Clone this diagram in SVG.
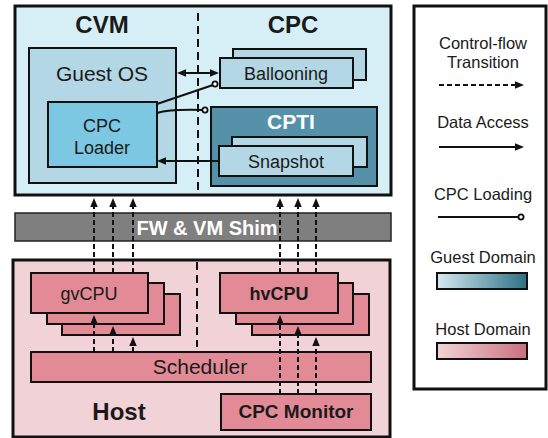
<svg xmlns="http://www.w3.org/2000/svg" width="548" height="438" viewBox="0 0 548 438">
<defs>
<marker id="ah" markerUnits="userSpaceOnUse" markerWidth="10" markerHeight="8" refX="2" refY="3.75" orient="auto-start-reverse">
<path d="M0,0 L9,3.75 L0,7.5 z" fill="#111"/>
</marker>
<linearGradient id="gGuest" x1="0" x2="1" y1="0" y2="0"><stop offset="0" stop-color="#d3ebf1"/><stop offset="1" stop-color="#2e6f84"/></linearGradient>
<linearGradient id="gHost" x1="0" x2="1" y1="0" y2="0"><stop offset="0" stop-color="#f2d3d8"/><stop offset="1" stop-color="#c9717d"/></linearGradient>
</defs>
<style>
text{font-family:"Liberation Sans",Arial,sans-serif;fill:#1a1a1a;text-anchor:middle}
.b{font-weight:bold}
.outer{stroke:#111;stroke-width:3}
.box{stroke:#111;stroke-width:2}
.lb{fill:#b3d7e5}
.host{fill:#e28a96}
.dash{stroke:#111;stroke-width:2;stroke-dasharray:5 3;fill:none}
.sol{stroke:#111;stroke-width:2;fill:none}
.div{stroke:#111;stroke-width:2;stroke-dasharray:8 5;fill:none}
.leg{font-size:16.5px}
</style>

<g id="cvm">
<rect x="15" y="6" width="376" height="189" fill="#d6eef6" class="outer"/>
<text x="102" y="33" class="b" font-size="24">CVM</text>
<text x="293" y="33" class="b" font-size="24">CPC</text>
</g>
<g id="guest-os">
<rect x="29" y="48" width="147" height="135" class="box lb"/>
<text x="102" y="81" font-size="21">Guest OS</text>
</g>
<g id="cpc-loader">
<rect x="48" y="102" width="109" height="65" class="box" fill="#7cc7e2"/>
<text x="102" y="132" font-size="18">CPC</text>
<text x="102" y="154" font-size="18">Loader</text>
</g>
<g id="ballooning">
<rect x="233" y="49" width="133" height="31" class="box lb"/>
<rect x="220" y="58" width="133" height="30" class="box lb"/>
<text x="286" y="80" font-size="18">Ballooning</text>
</g>
<g id="cpti">
<rect x="211" y="107" width="166" height="79" class="box" fill="#5591a9"/>
<text x="291" y="129" class="b" font-size="21" style="fill:#fff">CPTI</text>
</g>
<g id="snapshot">
<rect x="232" y="137" width="135" height="30" class="box lb"/>
<rect x="219" y="146" width="134" height="30" class="box lb"/>
<text x="286" y="168" font-size="18">Snapshot</text>
</g>

<g id="shim">
<rect x="15" y="213" width="376" height="28" fill="#7f7f7f" stroke="#222" stroke-width="1.5"/>
<text x="207" y="235" class="b" font-size="20" style="fill:#fff">FW &amp; VM Shim</text>
</g>

<g id="host">
<rect x="13" y="260" width="377" height="177" fill="#f1d2d6" class="outer"/>
<text x="119" y="420" class="b" font-size="24">Host</text>
</g>
<g id="gvcpu">
<rect x="62" y="294" width="118" height="41" class="box host"/>
<rect x="47" y="283" width="117" height="41" class="box host"/>
<rect x="31" y="273" width="117" height="40" class="box host"/>
<text x="89" y="300" font-size="18">gvCPU</text>
</g>
<g id="hvcpu">
<rect x="252" y="294" width="117" height="41" class="box host"/>
<rect x="236" y="283" width="117" height="41" class="box host"/>
<rect x="220" y="273" width="118" height="40" class="box host"/>
<text x="279" y="300" class="b" font-size="18">hvCPU</text>
</g>
<g id="scheduler">
<rect x="31" y="352" width="340" height="30" class="box host"/>
<text x="200" y="374" font-size="21">Scheduler</text>
</g>
<g id="cpc-monitor">
<rect x="221" y="394" width="150" height="36" class="box host"/>
<text x="296" y="418" class="b" font-size="19">CPC Monitor</text>
</g>

<g id="connectors">
<line x1="198" y1="13" x2="198" y2="195" class="div"/>
<line x1="197" y1="262" x2="197" y2="347" class="div"/>
<line x1="184" y1="73" x2="212" y2="73" class="sol" marker-start="url(#ah)" marker-end="url(#ah)"/>
<line x1="157" y1="104" x2="213" y2="85" class="sol"/>
<circle cx="215" cy="84" r="2.6" fill="#fff" stroke="#111" stroke-width="1.8"/>
<path d="M157,113 Q170,109 203,110" class="sol"/>
<circle cx="205" cy="110" r="2.6" fill="#fff" stroke="#111" stroke-width="1.8"/>
<line x1="219" y1="161" x2="164" y2="161" class="sol" marker-end="url(#ah)"/>
<line x1="94" y1="273" x2="94" y2="205" class="dash" marker-end="url(#ah)"/>
<line x1="113" y1="273" x2="113" y2="205" class="dash" marker-end="url(#ah)"/>
<line x1="133" y1="273" x2="133" y2="205" class="dash" marker-end="url(#ah)"/>
<line x1="280" y1="273" x2="280" y2="205" class="dash" marker-end="url(#ah)"/>
<line x1="298" y1="273" x2="298" y2="205" class="dash" marker-end="url(#ah)"/>
<line x1="316" y1="273" x2="316" y2="205" class="dash" marker-end="url(#ah)"/>
<line x1="94" y1="352" x2="94" y2="322" class="dash" marker-end="url(#ah)"/>
<line x1="113" y1="352" x2="113" y2="333" class="dash" marker-end="url(#ah)"/>
<line x1="133" y1="352" x2="133" y2="344" class="dash" marker-end="url(#ah)"/>
<line x1="280" y1="394" x2="280" y2="322" class="dash" marker-end="url(#ah)"/>
<line x1="298" y1="394" x2="298" y2="333" class="dash" marker-end="url(#ah)"/>
<line x1="316" y1="394" x2="316" y2="344" class="dash" marker-end="url(#ah)"/>
</g>

<g id="legend">
<rect x="414" y="6" width="132" height="383" fill="#fff" class="outer"/>
<text x="483" y="49" class="leg">Control-flow</text>
<text x="483" y="68" class="leg">Transition</text>
<line x1="439" y1="85" x2="517" y2="85" class="dash" marker-end="url(#ah)"/>
<text x="483" y="128" class="leg">Data Access</text>
<line x1="439" y1="147" x2="517" y2="147" class="sol" marker-end="url(#ah)"/>
<text x="483" y="200" class="leg">CPC Loading</text>
<line x1="438" y1="217" x2="518" y2="217" class="sol"/>
<circle cx="521" cy="217" r="2.6" fill="#fff" stroke="#111" stroke-width="1.8"/>
<text x="483" y="263" class="leg">Guest Domain</text>
<rect x="437" y="273" width="90" height="16" fill="url(#gGuest)" class="box"/>
<text x="483" y="335" class="leg">Host Domain</text>
<rect x="437" y="343" width="90" height="16" fill="url(#gHost)" class="box"/>
</g>
</svg>
